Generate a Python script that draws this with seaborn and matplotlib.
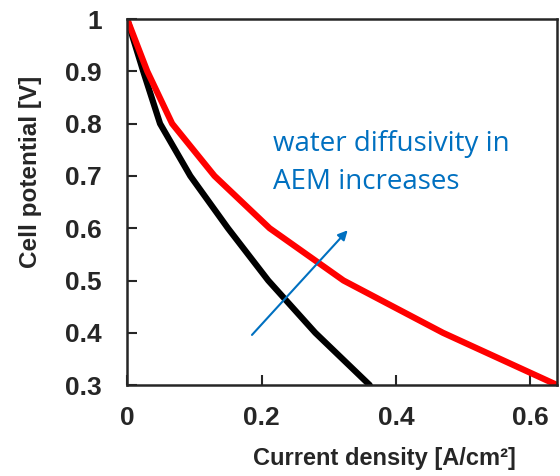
import matplotlib
matplotlib.use("Agg")
import matplotlib.pyplot as plt
import pandas as pd
import seaborn as sns

# --- dati ---
j_low  = [0.0, 0.024, 0.049, 0.094, 0.150, 0.210, 0.280, 0.361]
v_low  = [1.0, 0.9, 0.8, 0.7, 0.6, 0.5, 0.4, 0.3]
j_high = [0.0, 0.030, 0.067, 0.130, 0.212, 0.322, 0.470, 0.640]
v_high = [1.0, 0.9, 0.8, 0.7, 0.6, 0.5, 0.4, 0.3]

x_ticks = [0, 0.2, 0.4, 0.6]
x_tick_labels = ["0", "0.2", "0.4", "0.6"]
y_ticks = [0.3, 0.4, 0.5, 0.6, 0.7, 0.8, 0.9, 1.0]
y_tick_labels = ["0.3", "0.4", "0.5", "0.6", "0.7", "0.8", "0.9", "1"]

df = pd.concat([
    pd.DataFrame({"j": j_low, "v": v_low, "serie": "low"}),
    pd.DataFrame({"j": j_high, "v": v_high, "serie": "high"}),
])

sns.set_style("ticks")
plt.rcParams["font.family"] = ["Liberation Sans", "DejaVu Sans"]

fig = plt.figure(figsize=(5.6, 4.76), dpi=100)
ax = fig.add_axes([0.227, 0.191, 0.768, 0.769])

sns.lineplot(data=df, x="j", y="v", hue="serie", sort=False,
             palette={"low": "black", "high": "#ff0000"},
             linewidth=4.5, legend=False, ax=ax)

ax.set_xlim(0, 0.64)
ax.set_ylim(0.3, 1.0)
ax.set_xticks(x_ticks)
ax.set_xticklabels(x_tick_labels)
ax.set_yticks(y_ticks)
ax.set_yticklabels(y_tick_labels)
ax.tick_params(direction="in", length=7, width=1.5, labelsize=19)
ax.tick_params(axis="y", pad=18)
ax.tick_params(axis="x", pad=15)
for lab in ax.get_xticklabels() + ax.get_yticklabels():
    lab.set_fontweight("bold")
for s in ax.spines.values():
    s.set_linewidth(1.8)
    s.set_visible(True)

ax.set_xlabel("Current density [A/cm²]", fontsize=17, fontweight="bold")
ax.set_ylabel("Cell potential [V]", fontsize=17.5, fontweight="bold")
# etichette spostate come nell'originale (non centrate sugli assi)
ax.xaxis.set_label_coords(0.598, -0.17)
ax.yaxis.set_label_coords(-0.198, 0.582)

# freccia + testo
ax.annotate("", xy=(0.331, 0.600), xytext=(0.183, 0.392),
            arrowprops=dict(arrowstyle="-|>", color="#0070c0", lw=1.5, mutation_scale=14))
ax.text(0.217, 0.725, "water diffusivity in\nAEM increases", color="#0070c0",
        fontsize=20, family="Open Sans", va="center", ha="left", linespacing=1.45)

fig.savefig("out.png", dpi=100)
